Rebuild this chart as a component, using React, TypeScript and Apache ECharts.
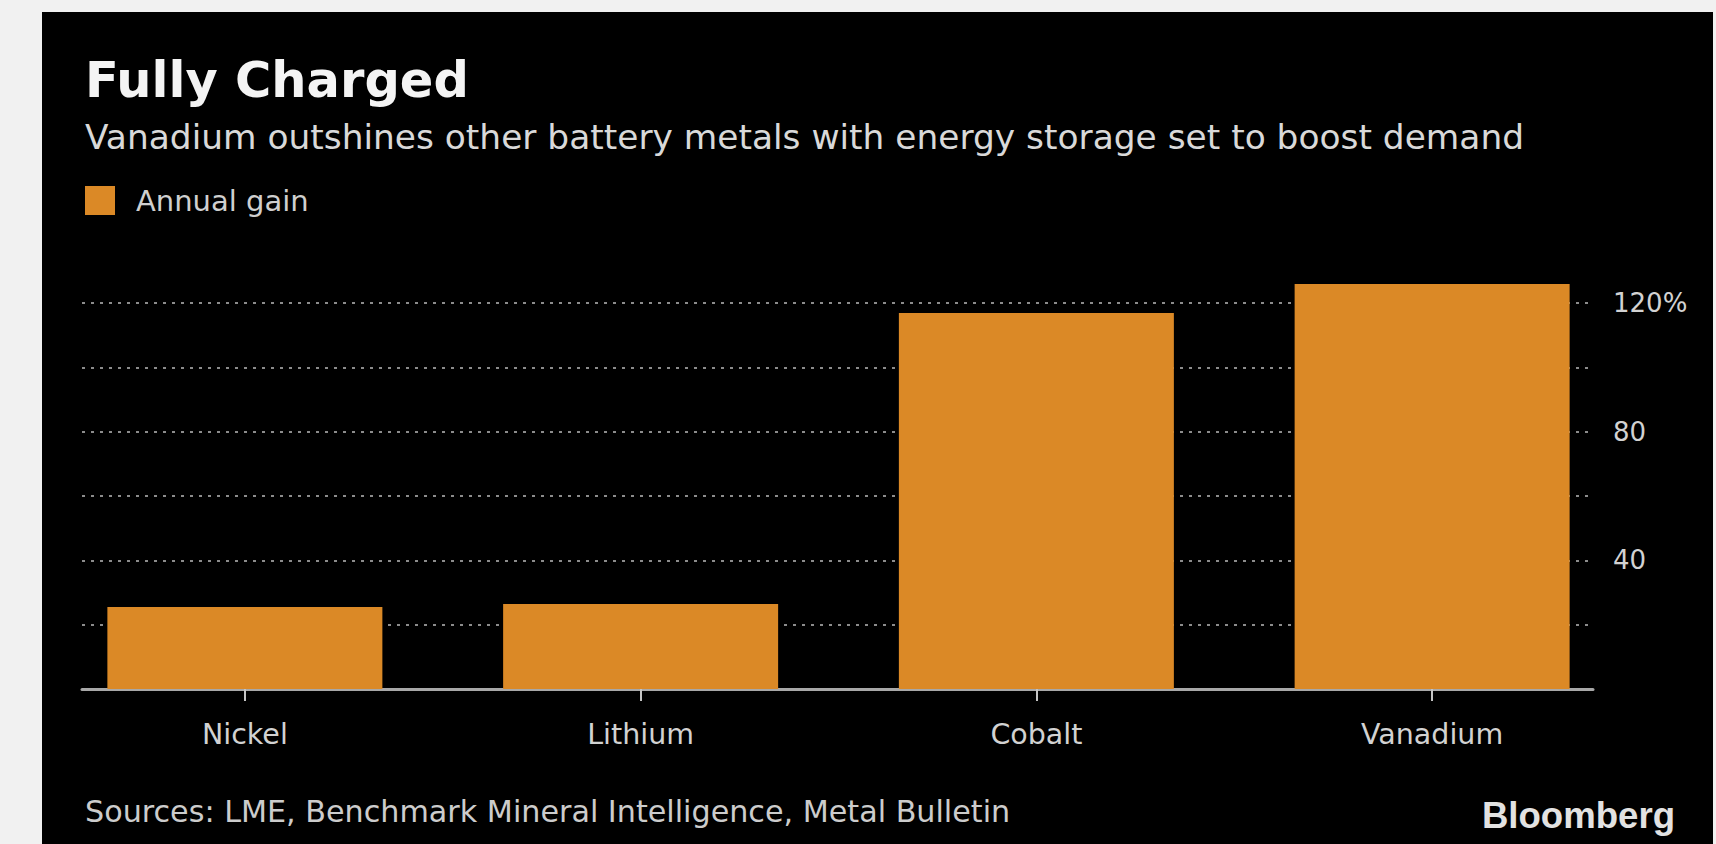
import React, { useEffect, useRef } from "react";
import * as echarts from "echarts";

const categories = ["Nickel", "Lithium", "Cobalt", "Vanadium"];
const annualGain = [25.5, 26.4, 116.9, 125.9];
const seriesName = "Annual gain";
const yLabelValues = [40, 80, 120];
const yMin = 0;
const yMax = 140;
const yInterval = 20;

const titleText = "Fully Charged";
const subtitleText =
  "Vanadium outshines other battery metals with energy storage set to boost demand";
const sourceText = "Sources: LME, Benchmark Mineral Intelligence, Metal Bulletin";
const brandText = "Bloomberg";

const FONT = "DejaVu Sans";
const BAR = "#db8926";

export default function App() {
  const ref = useRef<HTMLDivElement>(null);

  useEffect(() => {
    if (!ref.current) return;
    const chart = echarts.init(ref.current, undefined, { renderer: "svg" });
    const gridTop = 238.7;
    const gridHeight = 450.3;

    const option: any = {
      animation: false,
      backgroundColor: "#f1f1f1",
      graphic: [
        {
          type: "rect",
          z: -10,
          shape: { x: 42, y: 12, width: 1671, height: 840 },
          style: { fill: "#000000" },
        },
        {
          type: "text",
          x: 85,
          y: 80,
          style: {
            text: titleText,
            fill: "#f4f4f4",
            font: `bold 49.5px "${FONT}"`,
            textVerticalAlign: "middle",
          },
        },
        {
          type: "text",
          x: 85,
          y: 137,
          style: {
            text: subtitleText,
            fill: "#d9d9d9",
            font: `34.4px "${FONT}"`,
            textVerticalAlign: "middle",
          },
        },
        {
          type: "text",
          x: 85,
          y: 811,
          style: {
            text: sourceText,
            fill: "#cccccc",
            font: `30.2px "${FONT}"`,
            textVerticalAlign: "middle",
          },
        },
        {
          type: "text",
          x: 1675,
          y: 815,
          style: {
            text: brandText,
            fill: "#e2e2e2",
            font: `bold 36.6px "Liberation Sans"`,
            textAlign: "right",
            textVerticalAlign: "middle",
          },
        },
      ],
      legend: {
        data: [seriesName],
        left: 85,
        top: 186,
        padding: 0,
        icon: "rect",
        itemWidth: 30,
        itemHeight: 29,
        textStyle: {
          color: "#cfcfcf",
          fontFamily: FONT,
          fontSize: 29,
          padding: [0, 0, 0, 16],
        },
      },
      grid: [
        { left: 47, top: gridTop, width: 1583, height: gridHeight },
        { left: 82, top: gridTop, width: 1511, height: gridHeight },
      ],
      xAxis: [
        {
          type: "category",
          gridIndex: 0,
          data: categories,
          axisLine: { show: false },
          axisTick: {
            show: true,
            alignWithLabel: true,
            length: 12,
            lineStyle: { color: "#c4c4c4", width: 2 },
          },
          axisLabel: {
            color: "#d2d2d2",
            fontFamily: FONT,
            fontSize: 28.5,
            margin: 31,
          },
          splitLine: { show: false },
        },
        {
          type: "value",
          gridIndex: 1,
          min: 0,
          max: 1,
          axisLine: { show: true, lineStyle: { color: "#a8a8a8", width: 3 } },
          axisTick: { show: false },
          axisLabel: { show: false },
          splitLine: { show: false },
        },
      ],
      yAxis: [
        {
          type: "value",
          gridIndex: 0,
          min: yMin,
          max: yMax,
          interval: yInterval,
          show: false,
          splitLine: { show: false },
        },
        {
          type: "value",
          gridIndex: 1,
          min: yMin,
          max: yMax,
          interval: yInterval,
          position: "right",
          axisLine: { show: false },
          axisTick: { show: false },
          axisLabel: {
            margin: 20,
            color: "#d2d2d2",
            fontFamily: FONT,
            fontSize: 26,
            formatter: (v: number) => {
              if (!yLabelValues.includes(v)) return "";
              return v === yLabelValues[yLabelValues.length - 1] ? `${v}%` : `${v}`;
            },
          },
          splitLine: {
            show: true,
            showMinLine: false,
            showMaxLine: false,
            lineStyle: { type: [3, 6], color: "#8c8c8c", width: 2 },
          },
        },
      ],
      series: [
        {
          type: "bar",
          name: seriesName,
          xAxisIndex: 0,
          yAxisIndex: 0,
          data: annualGain,
          barWidth: 275,
          itemStyle: { color: BAR },
          z: 3,
        },
      ],
    };

    chart.setOption(option);
    return () => chart.dispose();
  }, []);

  return (
    <div
      ref={ref}
      style={{ position: "fixed", left: 0, top: 0, width: 1716, height: 844 }}
    />
  );
}
